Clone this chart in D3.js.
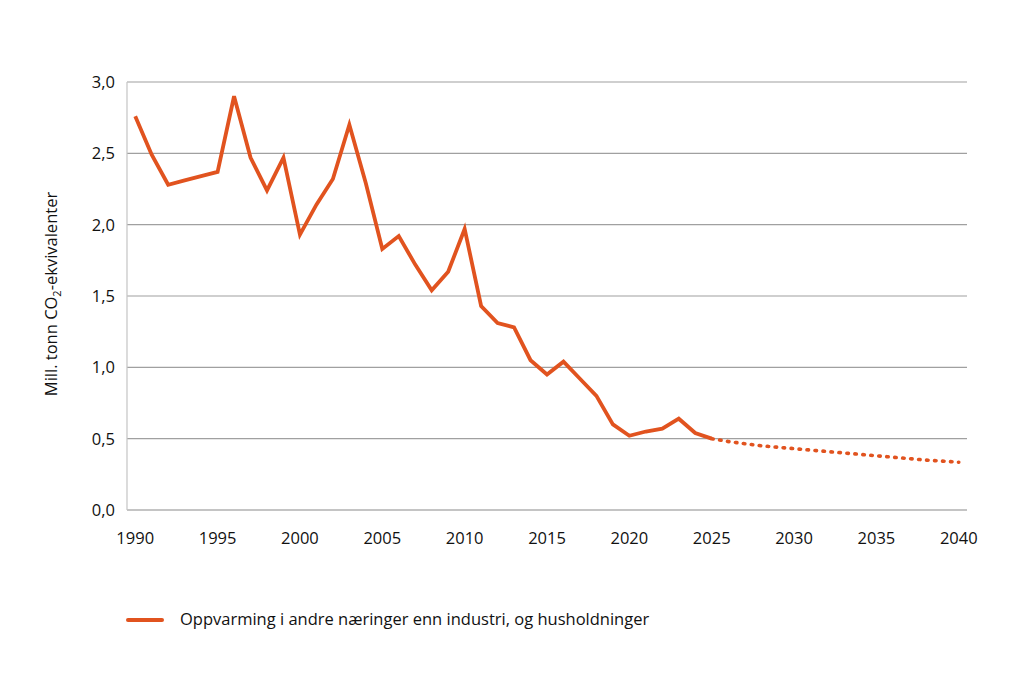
<!DOCTYPE html>
<html><head><meta charset="utf-8">
<script src="https://cdn.jsdelivr.net/npm/d3@7"></script>
<style>body{margin:0;background:#fff}text{font-family:"Open Sans",sans-serif;fill:#111}</style>
</head><body><svg id="c" width="1034" height="677"></svg>
<script>
const years = d3.range(1990, 2041);
const historic = [2.76,2.49,2.28,2.31,2.34,2.37,2.90,2.47,2.24,2.47,1.93,2.14,2.32,2.70,2.29,1.83,1.92,1.72,1.54,1.67,1.97,1.43,1.31,1.28,1.05,0.95,1.04,0.92,0.80,0.60,0.52,0.55,0.57,0.64,0.54,0.50];
const projection = [0.50,0.48,0.465,0.45,0.44,0.43,0.42,0.41,0.40,0.39,0.38,0.37,0.36,0.35,0.343,0.335];
const yTicks = [0,0.5,1,1.5,2,2.5,3];
const xTicks = [1990,1995,2000,2005,2010,2015,2020,2025,2030,2035,2040];
const seriesName = "Oppvarming i andre næringer enn industri, og husholdninger";
const color = "#E1531F";

const svg = d3.select("#c");
const L=127,R=967,T=82,B=510;
const x = d3.scalePoint().domain(years).range([L,R]).padding(0.5);
const y = d3.scaleLinear().domain([0,3]).range([B,T]);

svg.append("g").selectAll("line").data(yTicks).join("line")
  .attr("x1",L).attr("x2",R).attr("y1",d=>y(d)).attr("y2",d=>y(d))
  .attr("stroke",d=>d===0?"#8a8a8a":"#a0a0a0").attr("stroke-width",1.2);
svg.append("line").attr("x1",L).attr("x2",L).attr("y1",T).attr("y2",B).attr("stroke","#c4c4c4").attr("stroke-width",1.2);

const fmt = d=>d3.format(".1f")(d).replace(".",",");
svg.append("g").selectAll("text").data(yTicks).join("text")
  .attr("x",115).attr("y",d=>y(d)+6).attr("text-anchor","end").attr("font-size",16.5).text(fmt);
svg.append("g").selectAll("text").data(xTicks).join("text")
  .attr("x",d=>x(d)).attr("y",544).attr("text-anchor","middle").attr("font-size",16.5).text(d=>d);

const yl = svg.append("text").attr("transform","translate(57,294) rotate(-90)").attr("text-anchor","middle").attr("font-size",16.5);
yl.append("tspan").text("Mill. tonn CO");
yl.append("tspan").attr("font-size",11).attr("dy",4).text("2");
yl.append("tspan").attr("dy",-4).text("-ekvivalenter");

const line = d3.line().x(d=>x(d[0])).y(d=>y(d[1]));
const hist = historic.map((v,i)=>[years[i],v]);
const proj = projection.map((v,i)=>[2025+i,v]);
svg.append("path").datum(hist).attr("d",line).attr("fill","none").attr("stroke",color).attr("stroke-width",3.8).attr("stroke-linejoin","miter");
svg.append("path").datum(proj).attr("d",line).attr("fill","none").attr("stroke",color).attr("stroke-width",3.6)
  .attr("stroke-dasharray","1.5,6.5").attr("stroke-linecap","round");

svg.append("line").attr("x1",128).attr("x2",162).attr("y1",620).attr("y2",620).attr("stroke",color).attr("stroke-width",4).attr("stroke-linecap","round");
svg.append("text").attr("x",180).attr("y",625).attr("font-size",16.5).text(seriesName);
</script></body></html>
